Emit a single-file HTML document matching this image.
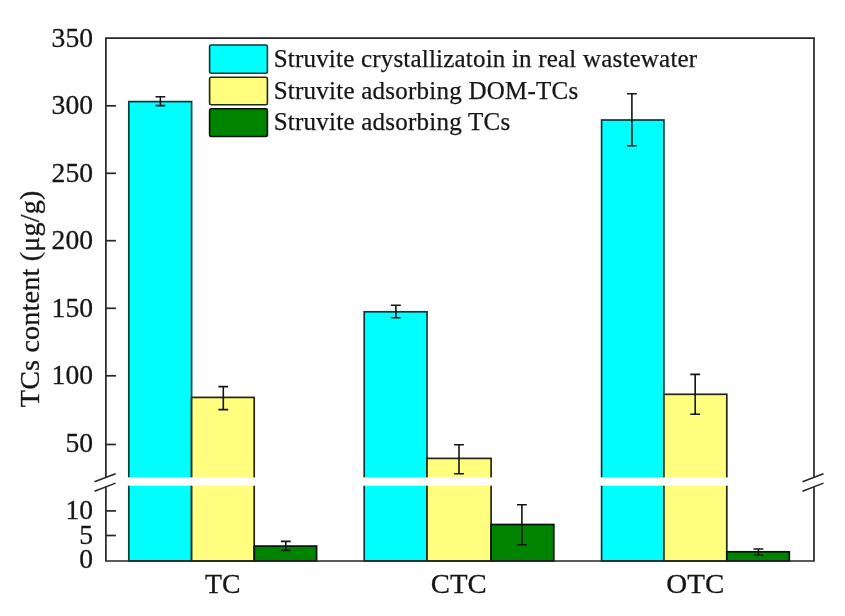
<!DOCTYPE html>
<html><head><meta charset="utf-8"><title>chart</title>
<style>
html,body{margin:0;padding:0;background:#fff;}
body{width:845px;height:616px;overflow:hidden;font-family:"Liberation Serif",serif;}
svg{display:block;font-family:"Liberation Serif",serif;filter:blur(0.45px);}
</style></head><body>
<svg width="845" height="616" viewBox="0 0 845 616">
<rect x="0" y="0" width="845" height="616" fill="#ffffff"/>
<g stroke-width="1.7">
<rect x="128.8" y="101.6" width="62.8" height="459.4" fill="#00ffff" stroke="#083c3c"/>
<rect x="191.6" y="397.4" width="62.6" height="163.6" fill="#fffe7e" stroke="#26260c"/>
<rect x="254.3" y="546.1" width="62.3" height="14.9" fill="#008400" stroke="#001400"/>
<rect x="364.2" y="311.8" width="62.8" height="249.2" fill="#00ffff" stroke="#083c3c"/>
<rect x="427.0" y="458.4" width="64.1" height="102.6" fill="#fffe7e" stroke="#26260c"/>
<rect x="491.1" y="524.5" width="62.7" height="36.5" fill="#008400" stroke="#001400"/>
<rect x="601.6" y="120.0" width="62.3" height="441.0" fill="#00ffff" stroke="#083c3c"/>
<rect x="663.9" y="394.3" width="62.9" height="166.7" fill="#fffe7e" stroke="#26260c"/>
<rect x="726.8" y="551.8" width="62.5" height="9.2" fill="#008400" stroke="#001400"/>
</g>
<rect x="127.2" y="477.4" width="128.6" height="8.3" fill="#ffffff"/>
<rect x="362.6" y="477.4" width="130.1" height="8.3" fill="#ffffff"/>
<rect x="600.0" y="477.4" width="128.4" height="8.3" fill="#ffffff"/>
<g stroke="#141414" stroke-width="1.6" fill="none">
<path d="M160.4 96.8V105.6M155.5 96.8h9.8M155.5 105.6h9.8"/>
<path d="M223.3 386.6V409.6M218.4 386.6h9.8M218.4 409.6h9.8"/>
<path d="M285.8 541.4V550.4M280.9 541.4h9.8M280.9 550.4h9.8"/>
<path d="M395.9 305.2V317.7M391.0 305.2h9.8M391.0 317.7h9.8"/>
<path d="M459.0 444.8V473.8M454.1 444.8h9.8M454.1 473.8h9.8"/>
<path d="M521.9 504.7V544.7M517.0 504.7h9.8M517.0 544.7h9.8"/>
<path d="M631.9 93.8V145.7M627.0 93.8h9.8M627.0 145.7h9.8"/>
<path d="M695.2 374.4V414.2M690.3 374.4h9.8M690.3 414.2h9.8"/>
<path d="M758.4 549.0V555.2M753.5 549.0h9.8M753.5 555.2h9.8"/>
</g>
<g stroke="#262626" stroke-width="1.7" fill="none">
<path d="M105.9 477.6V38.2H814.0V477.6M814.0 486.8V561.0H105.9V486.8" stroke-linejoin="miter"/>
<path d="M105.9 105.8H115.9"/>
<path d="M105.9 173.3H115.9"/>
<path d="M105.9 240.7H115.9"/>
<path d="M105.9 308.3H115.9"/>
<path d="M105.9 375.8H115.9"/>
<path d="M105.9 444.5H115.9"/>
<path d="M105.9 510.9H115.9"/>
<path d="M105.9 535.5H115.9"/>
</g>
<g stroke="#262626" stroke-width="1.5" fill="none">
<path d="M94.5 481.8L115.6 473.8M94.5 491.2L115.6 483.1"/>
<path d="M802.5 481.8L823.5 473.8M802.5 491.2L823.5 483.1"/>
</g>
<g font-size="27.6" text-anchor="end" fill="#161616" stroke="#161616" stroke-width="0.3">
<text x="93.0" y="47.00">350</text>
<text x="93.0" y="114.15">300</text>
<text x="93.0" y="181.70">250</text>
<text x="93.0" y="249.40">200</text>
<text x="93.0" y="316.90">150</text>
<text x="93.0" y="384.40">100</text>
<text x="93.0" y="452.00">50</text>
<text x="93.0" y="519.10">10</text>
<text x="93.0" y="543.90">5</text>
<text x="93.0" y="568.40">0</text>
</g>
<g font-size="28.3" text-anchor="middle" fill="#161616" stroke="#161616" stroke-width="0.3">
<text x="222.7" y="593.0" textLength="35.5" lengthAdjust="spacingAndGlyphs">TC</text>
<text x="458.8" y="593.0" textLength="55.9" lengthAdjust="spacingAndGlyphs">CTC</text>
<text x="695.3" y="593.0" textLength="58.0" lengthAdjust="spacingAndGlyphs">OTC</text>
</g>
<text transform="translate(39.3,407.2) rotate(-90)" font-size="28.1" fill="#161616" stroke="#161616" stroke-width="0.3" textLength="216.5" lengthAdjust="spacing">TCs content (μg/g)</text>
<rect x="209.6" y="45.0" width="57.8" height="28.3" rx="1.6" fill="#00ffff" stroke="#083c3c" stroke-width="1.6"/>
<text x="273.7" y="66.8" font-size="25.0" fill="#161616" stroke="#161616" stroke-width="0.25" textLength="423.5" lengthAdjust="spacing">Struvite crystallizatoin in real wastewater</text>
<rect x="209.6" y="77.3" width="57.8" height="27.5" rx="1.6" fill="#fffe7e" stroke="#26260c" stroke-width="1.6"/>
<text x="273.7" y="98.9" font-size="25.0" fill="#161616" stroke="#161616" stroke-width="0.25" textLength="304.5" lengthAdjust="spacing">Struvite adsorbing DOM-TCs</text>
<rect x="209.6" y="108.8" width="57.8" height="27.7" rx="1.6" fill="#008400" stroke="#001400" stroke-width="1.6"/>
<text x="273.7" y="130.0" font-size="25.0" fill="#161616" stroke="#161616" stroke-width="0.25" textLength="236.5" lengthAdjust="spacing">Struvite adsorbing TCs</text>
</svg>
</body></html>
